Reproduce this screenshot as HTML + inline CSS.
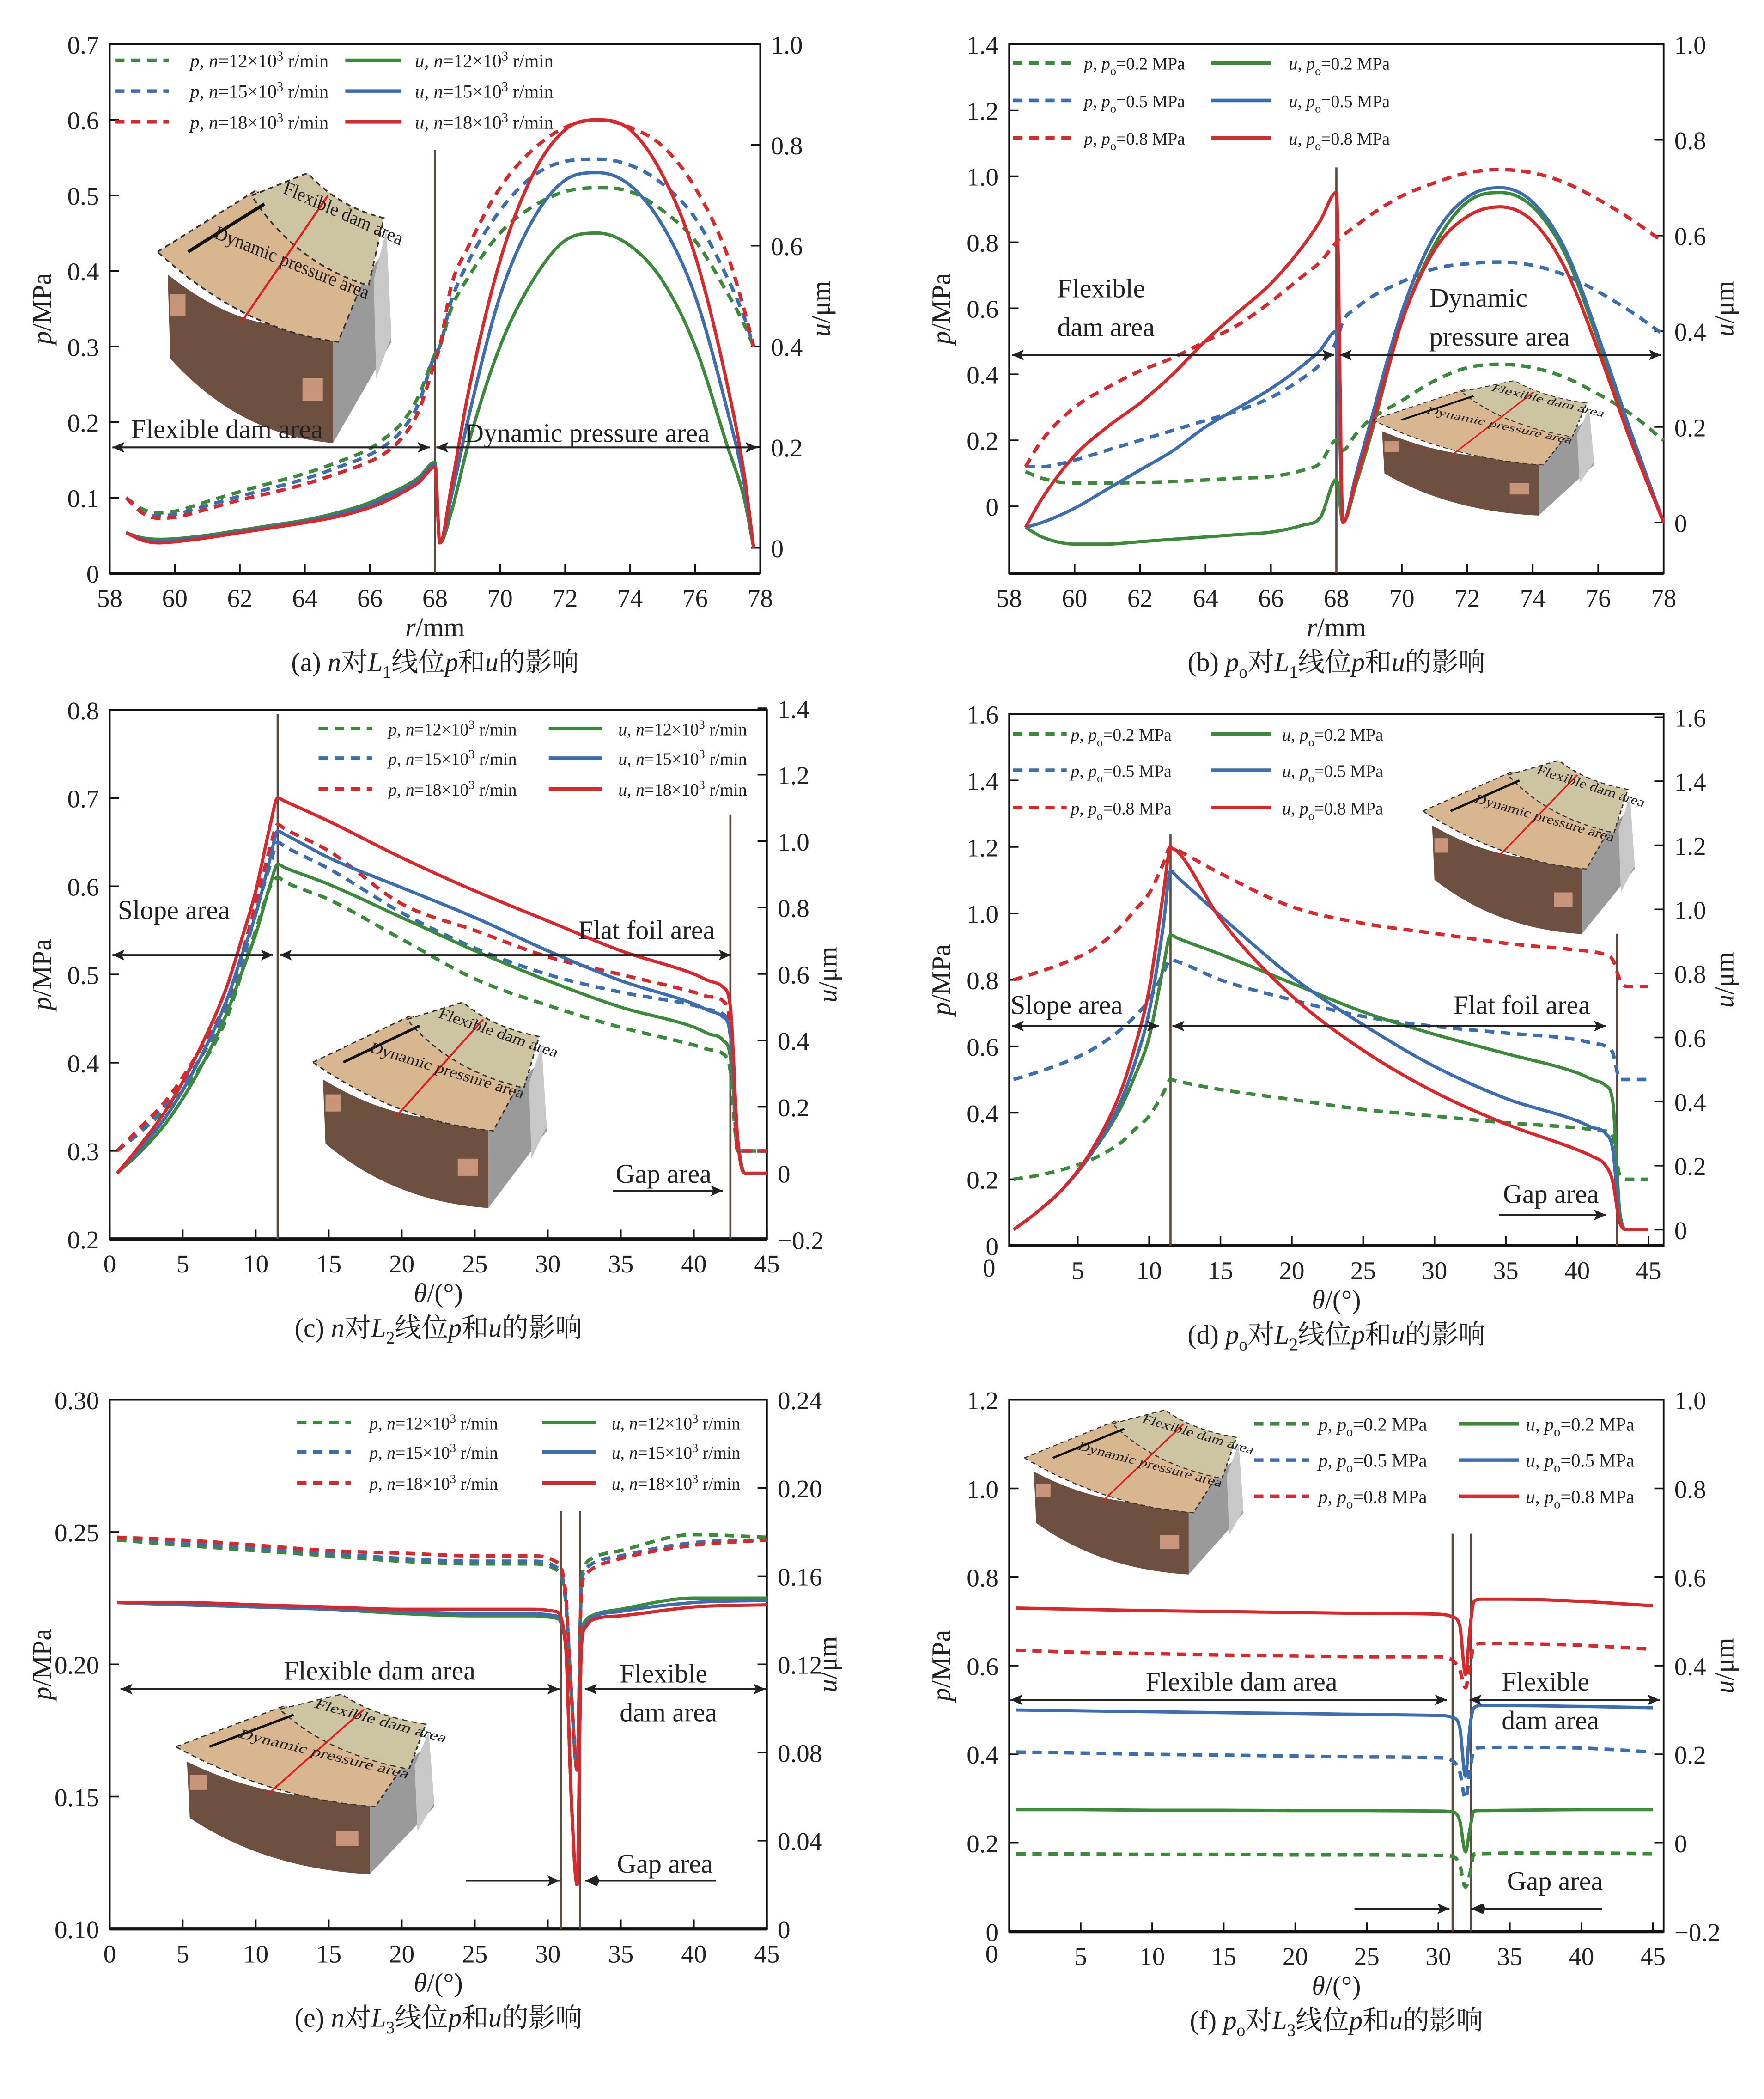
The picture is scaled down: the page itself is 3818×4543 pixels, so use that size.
<!DOCTYPE html>
<html><head><meta charset="utf-8"><style>
html,body{margin:0;padding:0;background:#fff;}
svg{display:block;}
text{font-family:"Liberation Serif","Noto Serif CJK SC","Noto Sans CJK SC",serif;fill:#222;}
</style></head><body>
<svg id="fig" xmlns="http://www.w3.org/2000/svg" width="3818" height="4543" viewBox="0 0 1318 1567" preserveAspectRatio="none"></svg>
<script>
// ---------- Data ----------
const aX=[58.5,59,59.5,60,61,62,63,64,65,66,66.5,67,67.5,68,68.15,68.5,69,70,71,72,73,74,75,76,77,77.5,77.8];
const aPG=[0.10,0.085,0.08,0.082,0.095,0.108,0.12,0.132,0.147,0.165,0.18,0.2,0.235,0.29,0.30,0.35,0.39,0.45,0.485,0.505,0.51,0.505,0.48,0.44,0.37,0.33,0.3];
const aPB=[0.10,0.08,0.076,0.078,0.09,0.102,0.113,0.125,0.14,0.157,0.17,0.19,0.225,0.29,0.30,0.36,0.41,0.48,0.525,0.545,0.548,0.54,0.515,0.47,0.39,0.34,0.3];
const aPR=[0.10,0.08,0.073,0.074,0.085,0.097,0.107,0.118,0.132,0.148,0.16,0.18,0.215,0.28,0.30,0.38,0.43,0.51,0.56,0.59,0.6,0.59,0.565,0.51,0.42,0.35,0.3];
const aUG=[0.03,0.02,0.017,0.018,0.025,0.035,0.045,0.055,0.07,0.09,0.105,0.12,0.14,0.17,0.01,0.07,0.2,0.4,0.53,0.61,0.625,0.6,0.53,0.4,0.2,0.1,0.0];
const aUB=[0.03,0.017,0.013,0.015,0.022,0.032,0.042,0.052,0.066,0.085,0.1,0.115,0.135,0.165,0.01,0.1,0.25,0.5,0.65,0.73,0.745,0.72,0.64,0.5,0.27,0.13,0.0];
const aUR=[0.03,0.015,0.01,0.012,0.02,0.03,0.04,0.05,0.062,0.08,0.093,0.11,0.13,0.16,0.01,0.12,0.3,0.57,0.74,0.83,0.85,0.83,0.74,0.58,0.32,0.15,0.0];

const bX=[58.5,59,60,61,62,63,64,65,66,67,67.5,68,68.2,68.6,69,70,71,72,73,74,75,76,77,78];
const bPG=[0.105,0.085,0.07,0.07,0.072,0.075,0.08,0.085,0.09,0.11,0.13,0.2,0.17,0.22,0.26,0.32,0.38,0.42,0.43,0.42,0.39,0.34,0.28,0.2];
const bPB=[0.12,0.12,0.14,0.17,0.2,0.23,0.26,0.29,0.33,0.39,0.43,0.5,0.56,0.6,0.63,0.68,0.72,0.735,0.74,0.73,0.7,0.65,0.59,0.52];
const bPR=[0.12,0.2,0.3,0.36,0.41,0.45,0.5,0.55,0.62,0.7,0.74,0.8,0.82,0.85,0.88,0.94,0.98,1.01,1.02,1.01,0.98,0.93,0.87,0.8];
const bUG=[-0.01,-0.03,-0.045,-0.045,-0.04,-0.035,-0.03,-0.025,-0.02,-0.005,0.01,0.09,0.0,0.08,0.17,0.42,0.58,0.67,0.69,0.66,0.56,0.38,0.18,0.0];
const bUB=[-0.01,0.0,0.03,0.07,0.11,0.15,0.2,0.24,0.28,0.33,0.36,0.4,0.0,0.1,0.2,0.44,0.6,0.68,0.7,0.67,0.57,0.39,0.19,0.0];
const bUR=[-0.01,0.05,0.14,0.2,0.25,0.31,0.38,0.44,0.5,0.58,0.63,0.69,0.0,0.09,0.18,0.42,0.57,0.64,0.66,0.63,0.53,0.36,0.17,0.0];

const cX=[0.5,2,4,6,8,9,10,11,11.5,12,15,20,25,30,35,40,41,42,42.5,43,43.5,45];
const cPG=[0.3,0.32,0.35,0.39,0.45,0.5,0.55,0.6,0.61,0.605,0.585,0.54,0.495,0.465,0.44,0.42,0.415,0.41,0.39,0.3,0.3,0.3];
const cPB=[0.3,0.32,0.355,0.4,0.46,0.51,0.57,0.625,0.65,0.645,0.62,0.57,0.53,0.5,0.48,0.465,0.46,0.455,0.43,0.3,0.3,0.3];
const cPR=[0.3,0.325,0.36,0.41,0.47,0.52,0.58,0.645,0.67,0.665,0.64,0.58,0.55,0.52,0.5,0.48,0.475,0.47,0.44,0.3,0.3,0.3];
const cUG=[0.0,0.06,0.16,0.3,0.48,0.6,0.72,0.87,0.93,0.92,0.87,0.77,0.67,0.58,0.5,0.44,0.42,0.4,0.35,0.1,0.0,0.0];
const cUB=[0.0,0.07,0.18,0.33,0.52,0.65,0.78,0.95,1.03,1.02,0.95,0.86,0.77,0.67,0.58,0.51,0.49,0.47,0.42,0.1,0.0,0.0];
const cUR=[0.0,0.08,0.2,0.36,0.56,0.7,0.85,1.05,1.13,1.12,1.06,0.95,0.85,0.76,0.67,0.6,0.58,0.56,0.5,0.1,0.0,0.0];

const dX=[0.5,2,4,6,8,9,10,11,11.5,12,15,20,25,30,35,40,41,42,42.5,43,43.5,45];
const dPG=[0.2,0.21,0.23,0.26,0.31,0.35,0.39,0.46,0.5,0.495,0.47,0.44,0.41,0.39,0.37,0.355,0.35,0.345,0.33,0.21,0.2,0.2];
const dPB=[0.5,0.52,0.55,0.59,0.65,0.69,0.74,0.82,0.86,0.855,0.8,0.74,0.69,0.66,0.64,0.62,0.61,0.6,0.58,0.5,0.5,0.5];
const dPR=[0.8,0.82,0.85,0.89,0.96,1.01,1.06,1.15,1.2,1.19,1.12,1.02,0.97,0.94,0.91,0.89,0.885,0.875,0.86,0.8,0.78,0.78];
const dUG=[0.0,0.05,0.13,0.24,0.38,0.48,0.6,0.82,0.92,0.91,0.86,0.77,0.68,0.61,0.55,0.49,0.47,0.45,0.4,0.05,0.0,0.0];
const dUB=[0.0,0.05,0.13,0.24,0.4,0.52,0.68,0.95,1.12,1.1,0.98,0.79,0.64,0.51,0.41,0.34,0.32,0.3,0.25,0.03,0.0,0.0];
const dUR=[0.0,0.05,0.13,0.25,0.43,0.57,0.75,1.05,1.19,1.18,0.97,0.73,0.56,0.43,0.33,0.25,0.23,0.2,0.15,0.02,0.0,0.0];

const eX=[0.5,5,10,15,20,25,29,30.5,31.2,31.6,32,32.3,32.6,33,35,40,45];
const ePG=[0.247,0.245,0.243,0.241,0.239,0.238,0.238,0.236,0.225,0.19,0.16,0.23,0.238,0.24,0.243,0.249,0.248];
const ePB=[0.248,0.246,0.244,0.242,0.240,0.239,0.239,0.237,0.226,0.19,0.16,0.229,0.236,0.238,0.241,0.246,0.247];
const ePR=[0.248,0.247,0.245,0.243,0.242,0.241,0.241,0.239,0.228,0.19,0.16,0.228,0.234,0.236,0.24,0.245,0.247];
const eUG=[0.148,0.147,0.146,0.145,0.143,0.142,0.142,0.141,0.13,0.06,0.02,0.13,0.14,0.142,0.145,0.15,0.15];
const eUB=[0.148,0.147,0.146,0.145,0.144,0.143,0.143,0.142,0.13,0.06,0.02,0.129,0.138,0.141,0.144,0.148,0.149];
const eUR=[0.148,0.148,0.147,0.146,0.145,0.145,0.145,0.144,0.13,0.06,0.02,0.128,0.137,0.14,0.142,0.146,0.147];

const fX=[0.5,5,10,15,20,25,30,31,31.5,31.9,32.2,32.5,33,35,40,45];
const fPG=[0.175,0.175,0.174,0.174,0.173,0.173,0.172,0.17,0.15,0.1,0.13,0.175,0.176,0.177,0.177,0.176];
const fPB=[0.405,0.403,0.4,0.398,0.396,0.394,0.392,0.385,0.36,0.3,0.36,0.41,0.415,0.416,0.414,0.405];
const fPR=[0.635,0.63,0.627,0.624,0.622,0.62,0.62,0.612,0.59,0.55,0.6,0.645,0.65,0.65,0.646,0.637];
const fUG=[0.075,0.075,0.074,0.074,0.073,0.073,0.072,0.07,0.05,-0.02,0.03,0.072,0.073,0.074,0.075,0.075];
const fUB=[0.3,0.298,0.296,0.294,0.292,0.29,0.288,0.283,0.26,0.15,0.26,0.305,0.31,0.31,0.308,0.305];
const fUR=[0.53,0.527,0.524,0.522,0.52,0.518,0.516,0.51,0.49,0.38,0.48,0.545,0.55,0.55,0.545,0.535];

const rTicks=[58,60,62,64,66,68,70,72,74,76,78];
const thTicks=[0,5,10,15,20,25,30,35,40,45];
const aPTicks=["0","0.1","0.2","0.3","0.4","0.5","0.6","0.7"];
const aUTicks=["0","0.2","0.4","0.6","0.8","1.0"];
const bPTicks=["0","0.2","0.4","0.6","0.8","1.0","1.2","1.4"];
const cPTicks=["0.2","0.3","0.4","0.5","0.6","0.7","0.8"];
const cUTicks=["−0.2","0","0.2","0.4","0.6","0.8","1.0","1.2","1.4"];
const dPTicks=["0","0.2","0.4","0.6","0.8","1.0","1.2","1.4","1.6"];
const dUTicks=["0","0.2","0.4","0.6","0.8","1.0","1.2","1.4","1.6"];
const ePTicks=["0.10","0.15","0.20","0.25","0.30"];
const eUTicks=["0","0.04","0.08","0.12","0.16","0.20","0.24"];
const fPTicks=["0","0.2","0.4","0.6","0.8","1.0","1.2"];
const fUTicks=["−0.2","0","0.2","0.4","0.6","0.8","1.0"];

// ---------- helpers ----------
const NS="http://www.w3.org/2000/svg";
const svg=document.getElementById('fig');
const G='#3a8a3a',B='#3b6db0',R='#d9282b';
function mk(tag,attrs,parent,txt){const e=document.createElementNS(NS,tag);for(const k in attrs)e.setAttribute(k,attrs[k]);if(txt!==undefined)e.textContent=txt;(parent||svg).appendChild(e);return e;}
function num(s){return parseFloat(s.replace('−','-'));}
function monoPath(px,py){
  const n=px.length;if(n<3)return px.map((x,i)=>(i?'L':'M')+x+','+py[i]).join(' ');
  const d=[],m=new Array(n);
  for(let i=0;i<n-1;i++)d.push((py[i+1]-py[i])/(px[i+1]-px[i]));
  m[0]=d[0];m[n-1]=d[n-2];
  for(let i=1;i<n-1;i++){m[i]=(d[i-1]*d[i]<=0)?0:(d[i-1]+d[i])/2;}
  for(let i=0;i<n-1;i++){if(d[i]===0){m[i]=0;m[i+1]=0;continue;}const a=m[i]/d[i],b=m[i+1]/d[i],s=a*a+b*b;if(s>9){const t=3/Math.sqrt(s);m[i]=t*a*d[i];m[i+1]=t*b*d[i];}}
  let s='M'+px[0].toFixed(1)+','+py[0].toFixed(1);
  for(let i=0;i<n-1;i++){const h=(px[i+1]-px[i])/3;
    s+=` C${(px[i]+h).toFixed(1)},${(py[i]+m[i]*h).toFixed(1)} ${(px[i+1]-h).toFixed(1)},${(py[i+1]-m[i+1]*h).toFixed(1)} ${px[i+1].toFixed(1)},${py[i+1].toFixed(1)}`;}
  return s;
}

function panel(id,P){
  const g=mk('g',{});
  
  
  P.g=g;
  P.sx=v=>P.L+(v-P.xmin)/(P.xmax-P.xmin)*(P.R-P.L);
  P.sp=v=>P.B-(v-P.pmin)/(P.pmax-P.pmin)*(P.B-P.T);
  P.su=v=>P.B-(v-P.umin)/(P.umax-P.umin)*(P.B-P.T);
  const fr=mk('rect',{x:P.L,y:P.T,width:P.R-P.L,height:P.B-P.T,fill:'none',stroke:'#111','stroke-width':1.3},g);
  
  
  mk('line',{x1:P.L,y1:P.B,x2:P.R,y2:P.B,stroke:'#111','stroke-width':2.5},g);
  P.xt.forEach(v=>{const x=P.sx(v);
    mk('line',{x1:x,y1:P.B,x2:x,y2:P.B-7,stroke:'#111','stroke-width':1.2},g);
    const t=mk('text',{x:x,y:P.B+25,'text-anchor':'middle','font-size':19},g,String(v));
    
    });
  P.pt.forEach(s=>{const y=P.sp(num(s));
    mk('line',{x1:P.L,y1:y,x2:P.L+7,y2:y,stroke:'#111','stroke-width':1.2},g);
    const t=mk('text',{x:P.L-8,y:y+7,'text-anchor':'end','font-size':19},g,s);
    
    });
  P.ut.forEach(s=>{const y=P.su(num(s));
    mk('line',{x1:P.R,y1:y,x2:P.R-7,y2:y,stroke:'#111','stroke-width':1.2},g);
    const t=mk('text',{x:P.R+8,y:y+7,'text-anchor':'start','font-size':19},g,s);
    
    });
  const yl=mk('text',{x:0,y:0,'font-size':20,'text-anchor':'middle',transform:`translate(${P.L-44},${(P.T+P.B)/2}) rotate(-90)`},g);
  
  
  mk('tspan',{'font-style':'italic'},yl,'p');mk('tspan',{},yl,'/MPa');
  const yr=mk('text',{x:0,y:0,'font-size':20,'text-anchor':'middle',transform:`translate(${P.R+52},${(P.T+P.B)/2}) rotate(-90)`},g);
  
  
  mk('tspan',{'font-style':'italic'},yr,'u');mk('tspan',{},yr,'/μm');
  const xl=mk('text',{x:(P.L+P.R)/2,y:P.B+47,'font-size':20,'text-anchor':'middle'},g);
  
  
  mk('tspan',{'font-style':'italic'},xl,P.xvar);mk('tspan',{},xl,P.xunit);
  const cap=mk('text',{x:(P.L+P.R)/2,y:P.B+73,'font-size':20,'text-anchor':'middle'},g,'');
  
  
  P.cap.forEach(c=>{mk('tspan',c[1]||{},cap,c[0]);});
  return P;
}
function vline(P,xv,top){const l=mk('line',{x1:P.sx(xv),y1:top,x2:P.sx(xv),y2:P.B,stroke:'#5a4a40','stroke-width':1.6},P.g);
  
  }
function series(P,xs,ys,axis,color,dashed,name){
  const f=axis==='p'?P.sp:P.su;
  const d=monoPath(xs.map(P.sx),ys.map(f));
  const p=mk('path',{d:d,fill:'none',stroke:color,'stroke-width':dashed?2.6:2.4,'stroke-dasharray':dashed?'7 5':'none','stroke-linejoin':'round'},P.g);
  
  
}
function legend(rows,x0,x1,lx,sx0,sx1,slx,fs,labels){
  const cols=[G,B,R];
  rows.forEach((y,i)=>{
    const l1=mk('line',{x1:x0,y1:y,x2:x1,y2:y,stroke:cols[i],'stroke-width':2.6,'stroke-dasharray':'7 5'});
    
    
    const t1=mk('text',{x:lx,y:y+5,'font-size':fs});
    
    
    labels(t1,'p',i);
    const l2=mk('line',{x1:sx0,y1:y,x2:sx1,y2:y,stroke:cols[i],'stroke-width':2.6});
    
    
    const t2=mk('text',{x:slx,y:y+5,'font-size':fs});
    
    
    labels(t2,'u',i);
  });
}
const nv=['12','15','18'],pv=['0.2','0.5','0.8'];
function nLab(t,v,i){mk('tspan',{'font-style':'italic'},t,v);mk('tspan',{},t,', ');mk('tspan',{'font-style':'italic'},t,'n');mk('tspan',{},t,'='+nv[i]+'×10');mk('tspan',{'font-size':'70%',dy:-5},t,'3');mk('tspan',{dy:5},t,' r/min');}
function pLab(t,v,i){mk('tspan',{'font-style':'italic'},t,v);mk('tspan',{},t,', ');mk('tspan',{'font-style':'italic'},t,'p');mk('tspan',{'font-size':'70%',dy:4},t,'o');mk('tspan',{dy:-4},t,'='+pv[i]+' MPa');}
function label(x,y,lines,fs,name){lines.forEach((s,i)=>{const t=mk('text',{x:x,y:y+i*29,'font-size':fs||20},svg,s);
  
  });}
function arrow(x1,x2,y,h1,h2){
  const g=mk('g',{});
  
  
  mk('line',{x1:x1,y1:y,x2:x2,y2:y,stroke:'#222','stroke-width':1.4},g);
  const dir=x2>x1?1:-1;
  if(h1)mk('path',{d:`M${x1},${y} l${9*dir},-4 l-2,4 l2,4 Z`,fill:'#222'},g);
  if(h2)mk('path',{d:`M${x2},${y} l${-9*dir},-4 l2,4 l-2,4 Z`,fill:'#222'},g);
}
function inset(x,y,w,h,lab){
  const g=mk('g',{transform:`translate(${x},${y}) scale(${w/100},${h/100})`});
  
  
  mk('path',{d:'M72,55 L92,30 L95,62 L72,98 Z',fill:'#9a9a9a'},g);
  mk('path',{d:'M88,40 L93,22 L95,60 L89,75 Z',fill:'#c8c8c8'},g);
  mk('path',{d:'M7,38 Q40,62 72,55 L72,98 Q35,95 8,68 Z',fill:'#6e5040'},g);
  mk('rect',{x:8,y:45,width:6,height:8,fill:'#c9957a'},g);
  mk('rect',{x:60,y:75,width:8,height:8,fill:'#c9957a'},g);
  mk('path',{d:'M3,30 L42,8 Q56,30 84,40 L74,62 Q37,58 3,30 Z',fill:'#d8b690',stroke:'#333','stroke-width':0.6,'stroke-dasharray':'2 1.5'},g);
  mk('path',{d:'M40,10 L62,2 Q74,14 92,18 L86,42 Q57,34 40,10 Z',fill:'#cdc5a2',stroke:'#333','stroke-width':0.6,'stroke-dasharray':'2 1.5'},g);
  mk('line',{x1:36,y1:55,x2:70,y2:10,stroke:'#e02020','stroke-width':0.8},g);
  mk('line',{x1:45,y1:13,x2:15,y2:30,stroke:'#111','stroke-width':1.2},g);
  mk('text',{x:0,y:0,'font-size':7,transform:'translate(52,9) rotate(22)'},g,'Flexible dam area');
  mk('text',{x:0,y:0,'font-size':7,transform:'translate(25,25) rotate(20)'},g,'Dynamic pressure area');
}

// ---------- Panel a ----------
const PA=panel('a',{L:82,R:568,T:33,B:428,xmin:58,xmax:78,pmin:0,pmax:0.7,umin:-0.0505,umax:1.0,xt:rTicks,pt:aPTicks,ut:aUTicks,xvar:'r',xunit:'/mm',cap:[['(a) '],['n',{'font-style':'italic'}],['对'],['L',{'font-style':'italic'}],['1',{'font-size':'65%',dy:5}],['线位',{dy:-5}],['p',{'font-style':'italic'}],['和'],['u',{'font-style':'italic'}],['的影响']]});
inset(112,125,190,210,'a');
vline(PA,68,112);
[[aPG,G],[aPB,B],[aPR,R]].forEach(s=>series(PA,aX,s[0],'p',s[1],true,'p-curve'));
[[aUG,G],[aUB,B],[aUR,R]].forEach(s=>series(PA,aX,s[0],'u',s[1],false,'u-curve'));
legend([45,68,91],86,126,142,258,300,310,14,nLab);
label(98,327,['Flexible dam area'],20,'region-label');arrow(84,321,334,true,true);
label(347,330,['Dynamic pressure area'],20,'region-label');arrow(326,566,334,true,true);

// ---------- Panel b ----------
const PB=panel('b',{L:754,R:1243,T:33,B:428,xmin:58,xmax:78,pmin:-0.203,pmax:1.4,umin:-0.106,umax:1.0,xt:rTicks,pt:bPTicks,ut:aUTicks,xvar:'r',xunit:'/mm',cap:[['(b) '],['p',{'font-style':'italic'}],['o',{'font-size':'65%',dy:5}],['对',{dy:-5}],['L',{'font-style':'italic'}],['1',{'font-size':'65%',dy:5}],['线位',{dy:-5}],['p',{'font-style':'italic'}],['和'],['u',{'font-style':'italic'}],['的影响']]});
inset(1020,282,180,105,'b');
vline(PB,68,125);
[[bPG,G],[bPB,B],[bPR,R]].forEach(s=>series(PB,bX,s[0],'p',s[1],true,'p-curve'));
[[bUG,G],[bUB,B],[bUR,R]].forEach(s=>series(PB,bX,s[0],'u',s[1],false,'u-curve'));
legend([47,75,103],757,800,810,905,950,963,13,pLab);
label(790,222,['Flexible','dam area'],20,'region-label');arrow(756,997,265,true,true);
label(1068,229,['Dynamic','pressure area'],20,'region-label');arrow(1001,1241,265,true,true);

// ---------- Panel c ----------
const PC=panel('c',{L:82,R:573,T:530,B:925,xmin:0,xmax:45,pmin:0.2,pmax:0.8,umin:-0.198,umax:1.395,xt:thTicks,pt:cPTicks,ut:cUTicks,xvar:'θ',xunit:'/(°)',cap:[['(c) '],['n',{'font-style':'italic'}],['对'],['L',{'font-style':'italic'}],['2',{'font-size':'65%',dy:5}],['线位',{dy:-5}],['p',{'font-style':'italic'}],['和'],['u',{'font-style':'italic'}],['的影响']]});
inset(228,745,190,160,'c');
vline(PC,11.5,533);vline(PC,42.5,608);
[[cPG,G],[cPB,B],[cPR,R]].forEach(s=>series(PC,cX,s[0],'p',s[1],true,'p-curve'));
[[cUG,G],[cUB,B],[cUR,R]].forEach(s=>series(PC,cX,s[0],'u',s[1],false,'u-curve'));
legend([544,566,589],238,278,290,410,450,462,13,nLab);
label(88,686,['Slope area'],20,'region-label');arrow(84,204,713,true,true);
label(432,701,['Flat foil area'],20,'region-label');arrow(209,546,713,true,true);
label(460,883,['Gap area'],20,'region-label');arrow(458,540,889,false,true);

// ---------- Panel d ----------
const PD=panel('d',{L:754,R:1243,T:533,B:930,xmin:0.19,xmax:46.06,pmin:0,pmax:1.6,umin:-0.05,umax:1.61,xt:thTicks.slice(1),pt:dPTicks,ut:dUTicks,xvar:'θ',xunit:'/(°)',cap:[['(d) '],['p',{'font-style':'italic'}],['o',{'font-size':'65%',dy:5}],['对',{dy:-5}],['L',{'font-style':'italic'}],['2',{'font-size':'65%',dy:5}],['线位',{dy:-5}],['p',{'font-style':'italic'}],['和'],['u',{'font-style':'italic'}],['的影响']]});
mk('text',{x:739,y:953,'font-size':19,'text-anchor':'middle'},svg,'0');
inset(1058,565,172,135,'d');
vline(PD,11.5,623);vline(PD,42.8,697);
[[dPG,G],[dPB,B],[dPR,R]].forEach(s=>series(PD,dX,s[0],'p',s[1],true,'p-curve'));
[[dUG,G],[dUB,B],[dUR,R]].forEach(s=>series(PD,dX,s[0],'u',s[1],false,'u-curve'));
legend([548,575,603],757,797,800,905,950,958,13,pLab);
label(755,757,['Slope area'],20,'region-label');arrow(756,866,766,true,true);
label(1086,757,['Flat foil area'],20,'region-label');arrow(876,1200,766,true,true);
label(1123,898,['Gap area'],20,'region-label');arrow(1120,1200,907,false,true);

// ---------- Panel e ----------
const PE=panel('e',{L:82,R:573,T:1045,B:1440,xmin:0,xmax:45,pmin:0.1,pmax:0.3,umin:0,umax:0.24,xt:thTicks,pt:ePTicks,ut:eUTicks,xvar:'θ',xunit:'/(°)',cap:[['(e) '],['n',{'font-style':'italic'}],['对'],['L',{'font-style':'italic'}],['3',{'font-size':'65%',dy:5}],['线位',{dy:-5}],['p',{'font-style':'italic'}],['和'],['u',{'font-style':'italic'}],['的影响']]});
inset(125,1262,210,140,'e');
vline(PE,30.9,1128);vline(PE,32.2,1128);
[[ePG,G],[ePB,B],[ePR,R]].forEach(s=>series(PE,eX,s[0],'p',s[1],true,'p-curve'));
[[eUG,G],[eUB,B],[eUR,R]].forEach(s=>series(PE,eX,s[0],'u',s[1],false,'u-curve'));
legend([1062,1084,1107],222,262,276,405,445,457,13,nLab);
label(212,1254,['Flexible dam area'],20,'region-label');arrow(90,418,1261,true,true);
label(463,1256,['Flexible','dam area'],20,'region-label');arrow(437,572,1261,true,true);
label(461,1398,['Gap area'],20,'region-label');arrow(348,418,1404,false,true);arrow(535,437,1404,false,true);

// ---------- Panel f ----------
const PF=panel('f',{L:754,R:1243,T:1045,B:1442,xmin:0,xmax:45.75,pmin:0,pmax:1.2,umin:-0.2,umax:1.0,xt:thTicks.slice(1),pt:fPTicks,ut:fUTicks,xvar:'θ',xunit:'/(°)',cap:[['(f) '],['p',{'font-style':'italic'}],['o',{'font-size':'65%',dy:5}],['对',{dy:-5}],['L',{'font-style':'italic'}],['3',{'font-size':'65%',dy:5}],['线位',{dy:-5}],['p',{'font-style':'italic'}],['和'],['u',{'font-style':'italic'}],['的影响']]});
mk('text',{x:741,y:1465,'font-size':19,'text-anchor':'middle'},svg,'0');
inset(760,1050,178,128,'f');
vline(PF,31,1145);vline(PF,32.3,1145);
[[fPG,G],[fPB,B],[fPR,R]].forEach(s=>series(PF,fX,s[0],'p',s[1],true,'p-curve'));
[[fUG,G],[fUB,B],[fUR,R]].forEach(s=>series(PF,fX,s[0],'u',s[1],false,'u-curve'));
legend([1063,1090,1117],937,978,985,1090,1135,1140,14,pLab);
label(856,1262,['Flexible dam area'],20,'region-label');arrow(755,1081,1269,true,true);
label(1122,1262,['Flexible','dam area'],20,'region-label');arrow(1098,1240,1269,true,true);
label(1126,1411,['Gap area'],20,'region-label');arrow(1012,1083,1425,false,true);arrow(1197,1099,1425,false,true);
</script>
</body></html>
